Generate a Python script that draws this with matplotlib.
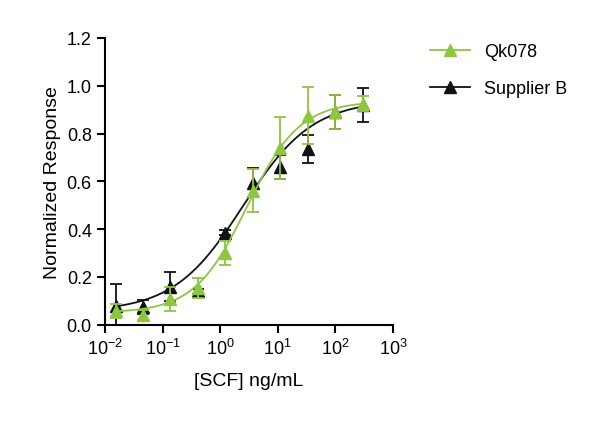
import numpy as np
import matplotlib.pyplot as plt
from matplotlib.ticker import LogLocator, NullFormatter

plt.rcParams['font.family'] = ['Liberation Sans', 'DejaVu Sans']

conc = [0.01524, 0.0457, 0.137, 0.412, 1.235, 3.7, 11.1, 33.3, 100, 300]
qk_y = [0.058, 0.042, 0.108, 0.154, 0.30, 0.56, 0.74, 0.875, 0.89, 0.925]
qk_err = [0.03, 0.02, 0.05, 0.04, 0.05, 0.09, 0.13, 0.12, 0.07, 0.03]
sb_y = [0.08, 0.075, 0.16, 0.14, 0.385, 0.595, 0.66, 0.735, 0.89, 0.92]
sb_err = [0.09, 0.03, 0.06, 0.01, 0.01, 0.06, 0.05, 0.06, 0.07, 0.07]
# 4PL fit parameters: bottom, top, EC50, hill
qk_fit = (0.05, 0.935, 2.9, 0.95)
sb_fit = (0.055, 0.94, 2.5, 0.72)

green = '#8DC63F'
black = '#111111'

def fpl(x, b, t, ec, h):
    return b + (t - b) / (1 + (ec / x) ** h)

fig = plt.figure(figsize=(6, 4.27), dpi=100)
ax = fig.add_axes([0.175, 0.237, 0.48, 0.672])
xs = np.logspace(np.log10(conc[0]), np.log10(conc[-1]), 300)
for y, e, p, c in [(sb_y, sb_err, sb_fit, black), (qk_y, qk_err, qk_fit, green)]:
    ax.plot(xs, fpl(xs, *p), color=c, lw=1.3)
    ax.errorbar(conc, y, yerr=e, fmt='none', ecolor=c, elinewidth=1.3, capsize=4, capthick=1.3)
    ax.plot(conc, y, '^', color=c, ms=8, ls='none')
h1, = ax.plot([], [], '-^', color=green, ms=8, lw=1.3, label='Qk078')
h2, = ax.plot([], [], '-^', color=black, ms=8, lw=1.3, label='Supplier B')
fig.legend(handles=[h1, h2], loc='upper left', bbox_to_anchor=(0.69, 0.935), frameon=False,
           fontsize=13, handlelength=2.2, labelspacing=1.1)

ax.set_xscale('log')
ax.set_xlim(1e-2, 1e3)
ax.set_ylim(0, 1.2)
ax.set_yticks(np.arange(0, 1.21, 0.2))
ax.set_yticklabels([f'{v:.1f}' for v in np.arange(0, 1.21, 0.2)])
ax.xaxis.set_major_locator(LogLocator(base=10, numticks=10))
ax.xaxis.set_minor_locator(LogLocator(base=10, subs=[], numticks=10))
ax.xaxis.set_minor_formatter(NullFormatter())
for s in ['top', 'right']:
    ax.spines[s].set_visible(False)
for s in ['left', 'bottom']:
    ax.spines[s].set_linewidth(1.5)
ax.tick_params(width=1.5, length=6, labelsize=13)
ax.set_xlabel('[SCF] ng/mL', fontsize=14, labelpad=10)
ax.set_ylabel('Normalized Response', fontsize=14)
fig.savefig('out.png', dpi=100)
